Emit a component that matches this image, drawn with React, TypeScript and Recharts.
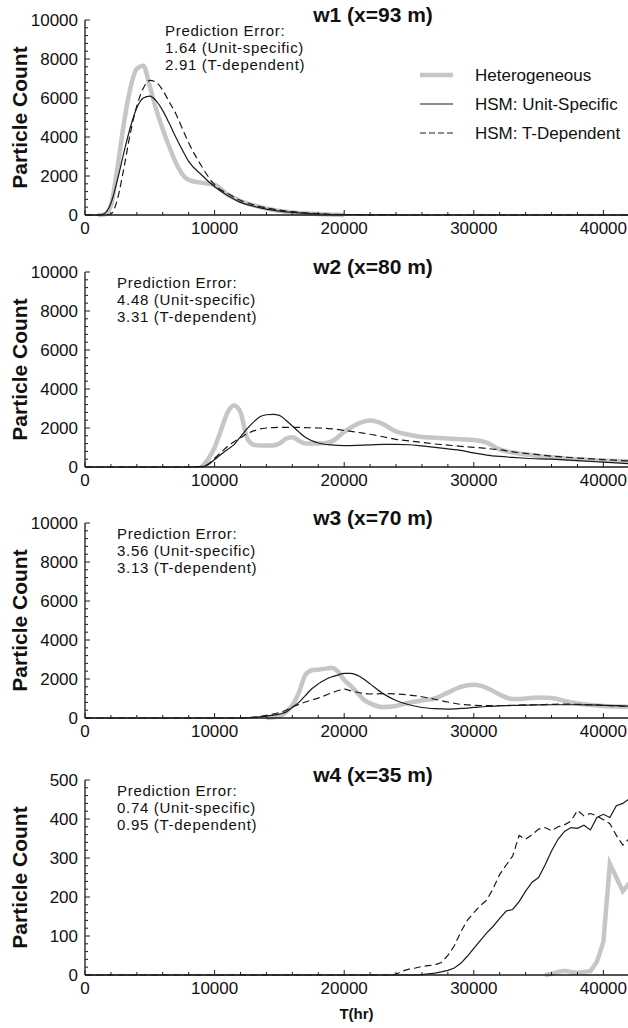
import React from 'react';
import { LineChart, Line, XAxis, YAxis, Legend } from 'recharts';

const FONT = '"Liberation Sans", Arial, Helvetica, sans-serif';
const INK = '#1a1a1a';
const HET_COLOR = '#c6c6c6';

// ---- w1 (x=93 m) ----
const w1Time = [0, 1000, 1500, 2000, 2500, 3000, 3500, 4000, 4500, 5000, 5500, 6000, 6500, 7000, 7500, 8000, 9000, 10000, 11000, 12000, 13000, 14000, 15000, 16000, 18000, 20000, 25000, 30000, 35000, 42000];
const w1Het = [null, 0, 20, 500, 2400, 4700, 6500, 7500, 7650, 6600, 5400, 4400, 3500, 2700, 2100, 1800, 1650, 1550, 1050, 720, 500, 330, 210, 130, 50, 0, null, null, null, null];
const w1Unit = [0, 0, 80, 600, 1800, 3200, 4500, 5500, 6000, 6100, 5850, 5350, 4700, 4000, 3350, 2750, 2050, 1450, 1000, 650, 450, 300, 200, 130, 50, 15, 0, 0, 0, 0];
const w1Tdep = [0, 0, 0, 50, 800, 2400, 4200, 5600, 6500, 6900, 6800, 6400, 5800, 5200, 4450, 3700, 2500, 1550, 1100, 750, 520, 360, 250, 170, 70, 20, 0, 0, 0, 0];

// ---- w2 (x=80 m) ----
const w2Time = [0, 8000, 9000, 9500, 10000, 10500, 11000, 11500, 12000, 12500, 13000, 13500, 14000, 14500, 15000, 15500, 16000, 16500, 17000, 18000, 19000, 20000, 21000, 22000, 23000, 24000, 25000, 26000, 27000, 28000, 29000, 30000, 31000, 32000, 33000, 34000, 36000, 38000, 40000, 42000];
const w2Het = [null, null, 0, 400, 1000, 1900, 2800, 3150, 2800, 1500, 1150, 1100, 1100, 1100, 1200, 1450, 1530, 1350, 1200, 1200, 1300, 1800, 2200, 2380, 2200, 1820, 1650, 1540, 1500, 1460, 1420, 1390, 1250, 900, 740, 640, 500, 400, 330, 290];
const w2Unit = [0, 0, 20, 120, 380, 650, 900, 1150, 1550, 1950, 2300, 2580, 2680, 2700, 2650, 2400, 2100, 1800, 1520, 1230, 1130, 1100, 1110, 1130, 1160, 1160, 1140, 1080, 1010, 930, 850, 720, 610, 540, 490, 450, 400, 330, 250, 170];
const w2Tdep = [0, 0, 30, 150, 450, 750, 1050, 1300, 1500, 1700, 1850, 1950, 2000, 2020, 2030, 2030, 2030, 2030, 2020, 2000, 1960, 1880, 1780, 1680, 1550, 1420, 1340, 1260, 1180, 1120, 1060, 1010, 950, 880, 780, 700, 560, 460, 380, 310];

// ---- w3 (x=70 m) ----
const w3Time = [0, 12000, 13000, 14000, 15000, 15500, 16000, 16500, 17000, 17500, 18000, 18500, 19000, 19500, 20000, 20500, 21000, 21500, 22000, 23000, 24000, 25000, 26000, 27000, 28000, 29000, 30000, 31000, 32000, 33000, 34000, 35000, 36000, 37000, 38000, 39000, 40000, 42000];
const w3Het = [null, null, null, 0, 100, 300, 650, 1300, 2200, 2450, 2480, 2520, 2580, 2400, 1950, 1650, 1300, 950, 750, 560, 620, 780, 900, 1000, 1300, 1600, 1700, 1550, 1200, 970, 1000, 1050, 1030, 870, 740, 670, 620, 580];
const w3Unit = [0, 0, 30, 100, 200, 300, 550, 800, 1150, 1500, 1750, 1950, 2100, 2200, 2290, 2290, 2200, 2000, 1750, 1250, 900, 680, 540, 480, 460, 490, 540, 590, 620, 640, 660, 670, 680, 680, 680, 670, 650, 610];
const w3Tdep = [0, 0, 40, 140, 280, 400, 560, 700, 820, 920, 1020, 1150, 1280, 1400, 1480, 1400, 1320, 1260, 1230, 1250, 1230, 1180, 1090, 960, 820, 700, 650, 640, 640, 650, 670, 680, 700, 710, 700, 680, 650, 590];

// ---- w4 (x=35 m) ----
const w4Time = [0, 23000, 23500, 24000, 24500, 25000, 25500, 26000, 26500, 27000, 27500, 28000, 28500, 29000, 29500, 30000, 30500, 31000, 31500, 32000, 32500, 33000, 33500, 34000, 34500, 35000, 35500, 36000, 36500, 37000, 37500, 38000, 38500, 39000, 39500, 40000, 40500, 41000, 41500, 42000];
const w4Het = [null, null, null, null, null, null, null, null, null, null, null, null, null, null, null, null, null, null, null, null, null, null, null, null, null, null, 0, 3, 8, 11, 8, 6, 8, 10, 34, 85, 285, 250, 215, 235];
const w4Unit = [0, 0, 0, 0, 0, 0, 0, 1, 3, 5, 8, 12, 18, 30, 48, 68, 88, 108, 125, 145, 164, 168, 188, 215, 238, 250, 282, 318, 348, 368, 378, 376, 384, 372, 404, 412, 404, 434, 440, 452];
const w4Tdep = [0, 0, 0, 2, 10, 15, 18, 22, 24, 26, 32, 50, 75, 111, 140, 160, 178, 192, 222, 258, 282, 305, 358, 348, 360, 374, 378, 370, 380, 385, 395, 422, 408, 414, 408, 398, 388, 358, 333, 350];

const xTicks = [0, 2000, 4000, 6000, 8000, 10000, 12000, 14000, 16000, 18000, 20000, 22000, 24000, 26000, 28000, 30000, 32000, 34000, 36000, 38000, 40000];

const seriesNames = ['Heterogeneous', 'HSM: Unit-Specific', 'HSM: T-Dependent'];

const toRows = (time: number[], het: (number | null)[], unit: number[], tdep: number[]) =>
  time.map((t, i) => ({ t, het: het[i], unit: unit[i], tdep: tdep[i] }));

function rangeTicks(max: number, step: number) {
  const out: number[] = [];
  for (let v = 0; v <= max + 1e-9; v += step) out.push(Math.round(v));
  return out;
}

function XTick(props: any) {
  const { x, y, payload } = props;
  const v = payload.value;
  const major = v % 10000 === 0;
  return (
    <g>
      <line x1={x} x2={x} y1={y} y2={y - (major ? 5 : 3)} stroke={INK} strokeWidth={1} />
      {major && (
        <text x={x} y={y + 13} textAnchor="middle" dominantBaseline="central" fontSize={17} fontFamily={FONT} fill="#111">
          {v}
        </text>
      )}
    </g>
  );
}

const makeYTick = (majorStep: number) => (props: any) => {
  const { x, y, payload } = props;
  const v = payload.value;
  const major = v % majorStep === 0;
  return (
    <g>
      <line x1={x} x2={x + (major ? 5 : 3)} y1={y} y2={y} stroke={INK} strokeWidth={1} />
      {major && (
        <text x={x - 7} y={y} textAnchor="end" dominantBaseline="central" fontSize={17} fontFamily={FONT} fill="#111">
          {v}
        </text>
      )}
    </g>
  );
};

function YTitle(props: any) {
  const { viewBox } = props;
  const cx = viewBox.x + 19;
  const cy = viewBox.y + viewBox.height / 2;
  return (
    <text x={cx} y={cy} transform={`rotate(-90, ${cx}, ${cy})`} textAnchor="middle" dominantBaseline="central" fontSize={21} fontWeight="bold" fontFamily={FONT} fill="#111">
      Particle Count
    </text>
  );
}

function LegendBox() {
  const rows = [
    { name: seriesNames[0], color: HET_COLOR, width: 4.5, dash: undefined },
    { name: seriesNames[1], color: INK, width: 1.2, dash: undefined },
    { name: seriesNames[2], color: INK, width: 1.2, dash: '6 3' },
  ];
  return (
    <svg width={215} height={90}>
      {rows.map((r, i) => (
        <g key={r.name}>
          <line x1={5} x2={38} y1={13 + i * 29} y2={13 + i * 29} stroke={r.color} strokeWidth={r.width} strokeDasharray={r.dash} />
          <text x={60} y={13 + i * 29} dominantBaseline="central" fontSize={17} fontFamily={FONT} fill="#111">
            {r.name}
          </text>
        </g>
      ))}
    </svg>
  );
}

interface PanelProps {
  top: number;
  height: number;
  axisHeight: number;
  rows: any[];
  yMax: number;
  yMajor: number;
  yMinor: number;
  title: string;
  errUnit: string;
  errTdep: string;
  textX: number;
  legend?: boolean;
  jagged?: boolean;
  xLabel?: string;
}

function Panel(p: PanelProps) {
  const plotTop = 20;
  const kind = p.jagged ? 'linear' : 'monotone';
  const noteStyle = { fontSize: 15, fontFamily: FONT, letterSpacing: 0.7 };
  return (
    <div style={{ position: 'absolute', left: 0, top: p.top, width: 628, height: p.height }}>
      <LineChart width={628} height={p.height} data={p.rows} margin={{ top: plotTop, right: 0, bottom: 0, left: 0 }}>
        <XAxis
          dataKey="t"
          type="number"
          domain={[0, 41900]}
          allowDataOverflow
          ticks={xTicks}
          interval={0}
          height={p.axisHeight}
          tickSize={0}
          tickMargin={0}
          tickLine={false}
          tick={<XTick />}
          axisLine={{ stroke: INK, strokeWidth: 1.3 }}
          label={p.xLabel ? { value: p.xLabel, position: 'insideBottom', offset: 6, fontSize: 15, fontWeight: 'bold', fontFamily: FONT, fill: '#111' } : undefined}
        />
        <YAxis
          type="number"
          domain={[0, p.yMax]}
          ticks={rangeTicks(p.yMax, p.yMinor)}
          interval={0}
          width={85}
          tickSize={0}
          tickMargin={0}
          tickLine={false}
          tick={makeYTick(p.yMajor)}
          axisLine={{ stroke: INK, strokeWidth: 1.3 }}
          label={<YTitle />}
        />
        {p.legend && (
          <Legend
            layout="vertical"
            align="center"
            verticalAlign="middle"
            content={<LegendBox />}
            wrapperStyle={{ left: 415, top: 62, width: 215, height: 90 }}
          />
        )}
        <Line name={seriesNames[0]} type={kind} dataKey="het" stroke={HET_COLOR} strokeWidth={4.5} dot={false} isAnimationActive={false} />
        <Line name={seriesNames[1]} type={kind} dataKey="unit" stroke={INK} strokeWidth={1.2} dot={false} isAnimationActive={false} />
        <Line name={seriesNames[2]} type={kind} dataKey="tdep" stroke={INK} strokeWidth={1.2} strokeDasharray="7 4" dot={false} isAnimationActive={false} />
      </LineChart>
      <svg width={628} height={80} style={{ position: 'absolute', left: 0, top: 0, pointerEvents: 'none' }}>
        <text x={373} y={plotTop - 6} textAnchor="middle" dominantBaseline="central" fontSize={21} fontWeight="bold" fontFamily={FONT} fill="#111">
          {p.title}
        </text>
        <text x={p.textX} y={plotTop + 10} dominantBaseline="central" fill="#111" style={noteStyle}>
          Prediction Error:
        </text>
        <text x={p.textX} y={plotTop + 27} dominantBaseline="central" fill="#111" style={noteStyle}>
          {p.errUnit} (Unit-specific)
        </text>
        <text x={p.textX} y={plotTop + 44} dominantBaseline="central" fill="#111" style={noteStyle}>
          {p.errTdep} (T-dependent)
        </text>
      </svg>
    </div>
  );
}

export default function App() {
  return (
    <div style={{ position: 'absolute', left: 0, top: 0, width: 628, height: 1026, overflow: 'hidden', background: '#fff' }}>
      <Panel top={0} height={250} axisHeight={35} rows={toRows(w1Time, w1Het, w1Unit, w1Tdep)} yMax={10000} yMajor={2000} yMinor={400}
        title="w1 (x=93 m)" errUnit="1.64" errTdep="2.91" textX={165} legend />
      <Panel top={252} height={250} axisHeight={35} rows={toRows(w2Time, w2Het, w2Unit, w2Tdep)} yMax={10000} yMajor={2000} yMinor={400}
        title="w2 (x=80 m)" errUnit="4.48" errTdep="3.31" textX={117} />
      <Panel top={503} height={250} axisHeight={35} rows={toRows(w3Time, w3Het, w3Unit, w3Tdep)} yMax={10000} yMajor={2000} yMinor={400}
        title="w3 (x=70 m)" errUnit="3.56" errTdep="3.13" textX={117} />
      <Panel top={760} height={265} axisHeight={50} rows={toRows(w4Time, w4Het, w4Unit, w4Tdep)} yMax={500} yMajor={100} yMinor={20}
        title="w4 (x=35 m)" errUnit="0.74" errTdep="0.95" textX={117} jagged xLabel="T(hr)" />
    </div>
  );
}
